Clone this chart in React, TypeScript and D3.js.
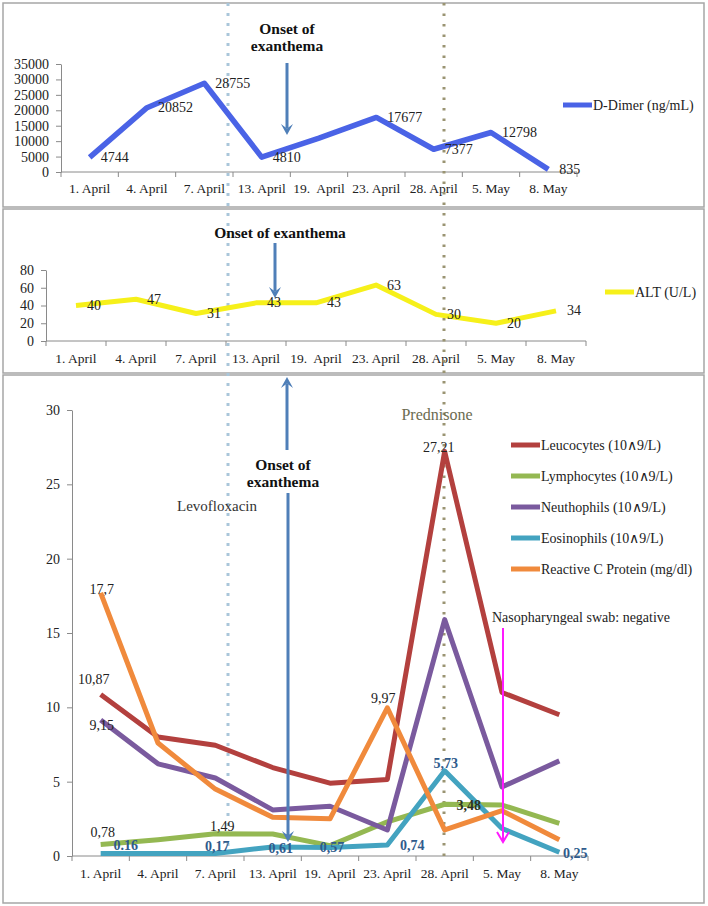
import { useEffect, useRef } from "react";
import * as d3 from "d3";

const categories = ["1. April", "4. April", "7. April", "13. April", "19.\u00a0 April", "23. April", "28. April", "5. May", "8. May"];

// top panel
const dDimer = [4744, 20852, 28755, 4810, 11000, 17677, 7377, 12798, 835];
const dDimerTicks = [0, 5000, 10000, 15000, 20000, 25000, 30000, 35000];

// middle panel
const alt = [40, 47, 31, 43, 43, 63, 30, 20, 34];
const altTicks = [0, 20, 40, 60, 80];

// bottom panel
const leucocytes = [10.87, 8.0, 7.45, 5.95, 4.9, 5.15, 27.21, 11.0, 9.5];
const lymphocytes = [0.78, 1.1, 1.49, 1.48, 0.7, 2.3, 3.48, 3.43, 2.2];
const neutrophils = [9.15, 6.2, 5.25, 3.1, 3.35, 1.75, 15.9, 4.65, 6.4];
const eosinophils = [0.16, 0.16, 0.17, 0.61, 0.57, 0.74, 5.73, 1.85, 0.25];
const crp = [17.7, 7.6, 4.5, 2.6, 2.5, 9.97, 1.75, 3.05, 1.1];
const bottomTicks = [0, 5, 10, 15, 20, 25, 30];

const seriesNames = [
  "Leucocytes (10\u22279/L)",
  "Lymphocytes (10\u22279/L)",
  "Neuthophils (10\u22279/L)",
  "Eosinophils (10\u22279/L)",
  "Reactive C Protein (mg/dl)",
];
const seriesColors = ["#b3403e", "#94b852", "#7a5a9e", "#43a3c0", "#f08a3c"];

const FONT = "'Liberation Serif', 'Times New Roman', serif";
const AXIS = "#8a8a8a";

const App = () => {
  const ref = useRef(null);

  useEffect(() => {
    document.body.style.margin = "0";
    const svg = d3.select(ref.current);
    svg.selectAll("*").remove();
    svg.style("font-family", FONT);

    // panel frames
    const frames = [
      [3, 3, 701, 204],
      [3, 209, 701, 164],
      [3, 375, 701, 528],
    ];
    svg.selectAll("rect.frame")
      .data(frames)
      .join("rect")
      .attr("class", "frame")
      .attr("x", d => d[0])
      .attr("y", d => d[1])
      .attr("width", d => d[2])
      .attr("height", d => d[3])
      .attr("fill", "#fff")
      .attr("stroke", "#a6a6a6")
      .attr("stroke-width", 1.5);

    const axes = (x, y, ticks, labelY, fmt = d3.format("d")) => {
      const g = svg.append("g");
      const ya = g.append("g")
        .attr("transform", `translate(${x.range()[0]},0)`)
        .call(d3.axisLeft(y).tickValues(ticks).tickSize(5).tickSizeOuter(0).tickPadding(7).tickFormat(fmt));
      ya.attr("font-family", FONT).attr("font-size", 14);
      ya.selectAll("path, line").attr("stroke", AXIS);
      ya.selectAll("text").attr("fill", "#222");

      const [x0, x1] = x.range();
      g.append("line")
        .attr("x1", x0).attr("x2", x1)
        .attr("y1", y(0)).attr("y2", y(0))
        .attr("stroke", AXIS);
      const edges = categories.map(c => x(c)).concat([x1]);
      g.selectAll("line.tick")
        .data(edges)
        .join("line")
        .attr("class", "tick")
        .attr("x1", d => d).attr("x2", d => d)
        .attr("y1", y(0)).attr("y2", y(0) + 5)
        .attr("stroke", AXIS);
      g.selectAll("text.cat")
        .data(categories)
        .join("text")
        .attr("class", "cat")
        .attr("x", d => x(d) + x.bandwidth() / 2)
        .attr("y", labelY)
        .attr("text-anchor", "middle")
        .attr("dominant-baseline", "central")
        .attr("font-size", 13.5)
        .attr("fill", "#222")
        .text(d => d);
    };

    const legendItem = (x, y, color, label) => {
      svg.append("line")
        .attr("x1", x).attr("x2", x + 29)
        .attr("y1", y).attr("y2", y)
        .attr("stroke", color).attr("stroke-width", 5);
      svg.append("text")
        .attr("x", x + 30).attr("y", y)
        .attr("dominant-baseline", "central")
        .attr("font-size", 14)
        .attr("fill", "#222")
        .text(label);
    };

    const arrow = (x, y1, y2, color, width, head, open = false) => {
      const dir = y2 > y1 ? 1 : -1;
      const g = svg.append("g");
      g.append("line")
        .attr("x1", x).attr("x2", x)
        .attr("y1", y1).attr("y2", y2 - dir * (open ? 0 : head * 0.6))
        .attr("stroke", color).attr("stroke-width", width);
      if (open) {
        g.append("path")
          .attr("d", `M${x - head * 0.6},${y2 - dir * head} L${x},${y2} L${x + head * 0.6},${y2 - dir * head}`)
          .attr("fill", "none").attr("stroke", color).attr("stroke-width", width);
      } else {
        g.append("path")
          .attr("d", `M${x - head * 0.55},${y2 - dir * head} L${x},${y2} L${x + head * 0.55},${y2 - dir * head} L${x},${y2 - dir * head * 0.6} Z`)
          .attr("fill", color);
      }
    };

    const boldText = (x, lines, y, size = 15.5) => {
      svg.append("text")
        .attr("x", x).attr("y", y)
        .attr("text-anchor", "middle")
        .attr("font-weight", "bold")
        .attr("font-size", size)
        .attr("fill", "#111")
        .selectAll("tspan")
        .data(lines)
        .join("tspan")
        .attr("x", x)
        .attr("dy", (d, i) => (i === 0 ? 0 : 17))
        .text(d => d);
    };

    const lineGen = (x, y) => d3.line()
      .x((d, i) => x(categories[i]) + x.bandwidth() / 2)
      .y(d => y(d));

    // ===== TOP: D-Dimer =====
    const x1 = d3.scaleBand().domain(categories).range([61, 577]);
    const y1 = d3.scaleLinear().domain([0, 35000]).range([172, 64]);
    axes(x1, y1, dDimerTicks, 188);

    // ===== MIDDLE: ALT =====
    const x2 = d3.scaleBand().domain(categories).range([46, 586]);
    const y2 = d3.scaleLinear().domain([0, 80]).range([341, 270]);
    axes(x2, y2, altTicks, 358);

    // ===== BOTTOM =====
    const x3 = d3.scaleBand().domain(categories).range([72, 588]);
    const y3 = d3.scaleLinear().domain([0, 30]).range([856, 410]);
    axes(x3, y3, bottomTicks, 873);

    // vertical dotted markers
    svg.append("line")
      .attr("x1", 228).attr("x2", 228).attr("y1", 3).attr("y2", 850)
      .attr("stroke", "#a9c6da").attr("stroke-width", 3).attr("stroke-dasharray", "3,7");
    svg.append("line")
      .attr("x1", 444).attr("x2", 444).attr("y1", 3).attr("y2", 856)
      .attr("stroke", "#9a9472").attr("stroke-width", 3).attr("stroke-dasharray", "2.5,8");

    // series lines
    svg.append("path")
      .datum(dDimer)
      .attr("d", lineGen(x1, y1))
      .attr("fill", "none").attr("stroke", "#4a63e6")
      .attr("stroke-width", 5.5).attr("stroke-linejoin", "round");

    svg.append("path")
      .datum(alt)
      .attr("d", lineGen(x2, y2))
      .attr("fill", "none").attr("stroke", "#f6f01a")
      .attr("stroke-width", 5).attr("stroke-linejoin", "round");

    const bottomSeries = [leucocytes, lymphocytes, neutrophils, eosinophils, crp];
    svg.append("g")
      .selectAll("path")
      .data(bottomSeries)
      .join("path")
      .attr("d", d => lineGen(x3, y3)(d))
      .attr("fill", "none")
      .attr("stroke", (d, i) => seriesColors[i])
      .attr("stroke-width", 5)
      .attr("stroke-linejoin", "round");

    // value labels, top and middle (right of point)
    const sideLabels = (x, y, values, skip = []) => {
      svg.append("g")
        .selectAll("text")
        .data(values.map((v, i) => ({ v, i })).filter(d => !skip.includes(d.i)))
        .join("text")
        .attr("x", d => x(categories[d.i]) + x.bandwidth() / 2 + 11)
        .attr("y", d => y(d.v))
        .attr("dominant-baseline", "central")
        .attr("font-size", 14)
        .attr("fill", "#222")
        .text(d => d.v);
    };
    sideLabels(x1, y1, dDimer, [4]);
    sideLabels(x2, y2, alt);

    // bottom value labels
    const blue = "#2f5b8c";
    const bottomLabels = [
      { s: 0, i: 0, dx: -7, dy: -15, text: "10,87" },
      { s: 0, i: 6, dx: -6, dy: -4, text: "27,21" },
      { s: 2, i: 0, dx: 1, dy: 6, text: "9,15" },
      { s: 1, i: 0, dx: 2, dy: -12, text: "0,78" },
      { s: 1, i: 2, dx: 7, dy: -7, text: "1,49" },
      { s: 1, i: 6, dx: 24, dy: 1, text: "3,48", color: "#2b3320", bold: true },
      { s: 3, i: 0, dx: 25, dy: -8, text: "0.16", color: blue, bold: true },
      { s: 3, i: 2, dx: 2, dy: -7, text: "0,17", color: blue, bold: true },
      { s: 3, i: 3, dx: 8, dy: 2, text: "0,61", color: blue, bold: true },
      { s: 3, i: 4, dx: 2, dy: 0, text: "0,57", color: blue, bold: true },
      { s: 3, i: 5, dx: 25, dy: 1, text: "0,74", color: blue, bold: true },
      { s: 3, i: 6, dx: 1, dy: -7, text: "5,73", color: blue, bold: true },
      { s: 3, i: 8, dx: 16, dy: 1, text: "0,25", color: blue, bold: true },
      { s: 4, i: 0, dx: 1, dy: -3, text: "17,7" },
      { s: 4, i: 5, dx: -4, dy: -9, text: "9,97" },
    ];
    svg.append("g")
      .selectAll("text")
      .data(bottomLabels)
      .join("text")
      .attr("x", d => x3(categories[d.i]) + x3.bandwidth() / 2 + d.dx)
      .attr("y", d => y3(bottomSeries[d.s][d.i]) + d.dy)
      .attr("text-anchor", "middle")
      .attr("dominant-baseline", "central")
      .attr("font-size", 14)
      .attr("font-weight", d => (d.bold ? "bold" : "normal"))
      .attr("fill", d => d.color || "#222")
      .text(d => d.text);

    // legends
    legendItem(563, 105, "#4a63e6", "D-Dimer (ng/mL)");
    legendItem(605, 292, "#f6f01a", "ALT (U/L)");
    seriesNames.forEach((n, i) => legendItem(511, 445 + i * 31, seriesColors[i], n));

    // annotations
    boldText(287, ["Onset of", "exanthema"], 34);
    arrow(287, 63, 135, "#4f7fb8", 3, 11);
    boldText(280, ["Onset of exanthema"], 238);
    arrow(275, 243, 298, "#4f7fb8", 3, 11);
    boldText(283, ["Onset of", "exanthema"], 470);
    arrow(287, 450, 377, "#4f7fb8", 3, 11);
    arrow(288, 493, 842, "#4f7fb8", 3, 11);

    svg.append("text")
      .attr("x", 217).attr("y", 506)
      .attr("text-anchor", "middle").attr("dominant-baseline", "central")
      .attr("font-size", 15).attr("fill", "#333")
      .text("Levofloxacin");
    svg.append("text")
      .attr("x", 437).attr("y", 414)
      .attr("text-anchor", "middle").attr("dominant-baseline", "central")
      .attr("font-size", 16).attr("fill", "#6b6b50")
      .text("Prednisone");
    svg.append("text")
      .attr("x", 492).attr("y", 617)
      .attr("dominant-baseline", "central")
      .attr("font-size", 14).attr("fill", "#222")
      .text("Nasopharyngeal swab: negative");
    arrow(503, 628, 842, "#ff1aff", 2, 10, true);
  }, []);

  return (
    <svg
      ref={ref}
      width={708}
      height={906}
      style={{ display: "block", background: "#fff" }}
    ></svg>
  );
};

export default App;
